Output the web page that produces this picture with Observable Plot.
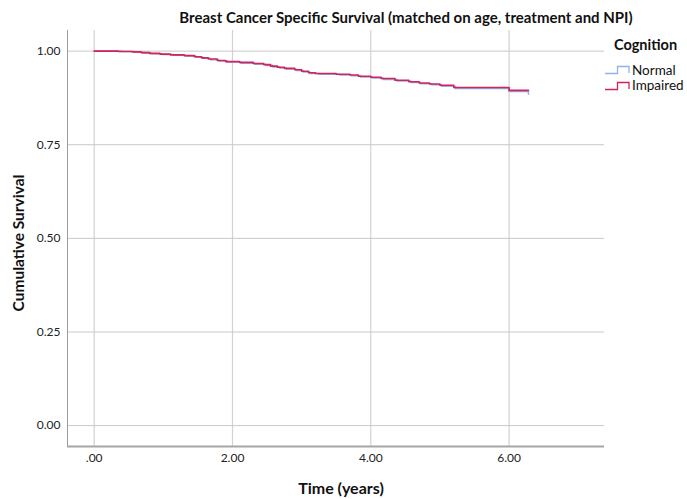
<!DOCTYPE html>
<html>
<head>
<meta charset="utf-8">
<script src="https://cdn.jsdelivr.net/npm/d3@7"></script>
<script src="https://cdn.jsdelivr.net/npm/@observablehq/plot@0.6"></script>
<style>
  html, body { margin: 0; padding: 0; background: #fff; }
  #wrap { position: relative; width: 687px; height: 499px; overflow: hidden; font-family: Lato, "Open Sans", sans-serif; }
  #wrap > svg, #wrap > figure { position: absolute; left: 0; top: 0; margin: 0; }
  .txt { position: absolute; font-weight: bold; color: #111; white-space: nowrap; line-height: 1; }
  #title { left: 0; width: 812px; top: 10px; text-align: center; font-size: 15px; }
  #xlabel { left: 0; width: 682px; top: 480px; text-align: center; font-size: 16px; }
  #ylabel { left: 19px; top: 243px; font-size: 15.5px; transform: translate(-50%, -50%) rotate(-90deg); }
  #legend { position: absolute; left: 605px; top: 38px; font-size: 13.5px; color: #111; line-height: 1; }
  #legend .head { font-weight: bold; font-size: 14.5px; margin-left: 9px; margin-bottom: 10px; }
  #legend .item { display: flex; align-items: center; height: 15.5px; }
  #legend svg { margin-right: 2px; }
</style>
</head>
<body>
<div id="wrap">
  <div id="title" class="txt">Breast Cancer Specific Survival (matched on age, treatment and NPI)</div>
  <div id="xlabel" class="txt">Time (years)</div>
  <div id="ylabel" class="txt">Cumulative Survival</div>
  <div id="legend"></div>
</div>
<script>
// Kaplan–Meier step estimates, one array pair per cognition group
const groups = ["Normal", "Impaired"];
const groupColors = ["#8db3e8", "#d4235a"];

const normalTimes = [0, 0.40, 0.58, 0.70, 0.82, 0.98, 1.15, 1.32, 1.47, 1.57, 1.68, 1.80, 1.92, 2.12, 2.32, 2.48, 2.58, 2.68, 2.78, 2.92, 3.02, 3.12, 3.25, 3.55, 3.72, 3.85, 4.02, 4.18, 4.38, 4.58, 4.72, 4.88, 5.02, 5.22, 6.00, 6.28];
const normalSurvival = [1.000, 0.999, 0.997, 0.995, 0.993, 0.991, 0.989, 0.987, 0.984, 0.981, 0.977, 0.974, 0.971, 0.968, 0.965, 0.962, 0.958, 0.955, 0.952, 0.948, 0.944, 0.940, 0.938, 0.936, 0.934, 0.931, 0.928, 0.924, 0.920, 0.916, 0.913, 0.910, 0.906, 0.900, 0.892, 0.885];

const impairedTimes = [0, 0.35, 0.55, 0.68, 0.80, 0.95, 1.10, 1.30, 1.45, 1.55, 1.65, 1.78, 1.90, 2.10, 2.30, 2.45, 2.55, 2.65, 2.75, 2.90, 3.00, 3.10, 3.20, 3.50, 3.70, 3.82, 4.00, 4.15, 4.35, 4.55, 4.70, 4.85, 5.00, 5.20, 6.00, 6.28];
const impairedSurvival = [1.000, 0.999, 0.998, 0.996, 0.994, 0.992, 0.990, 0.988, 0.985, 0.982, 0.979, 0.975, 0.972, 0.970, 0.967, 0.964, 0.960, 0.957, 0.954, 0.950, 0.946, 0.942, 0.940, 0.938, 0.936, 0.933, 0.930, 0.927, 0.922, 0.918, 0.915, 0.912, 0.909, 0.903, 0.895, 0.895];

const xTicks = [0, 2, 4, 6];
const xTickLabels = [".00", "2.00", "4.00", "6.00"];
const yTicks = [0, 0.25, 0.5, 0.75, 1];
const yTickLabels = ["0.00", "0.25", "0.50", "0.75", "1.00"];
const xDomain = [-0.386, 7.38];
const yDomain = [-0.0558, 1.055];

const rows = [
  ...normalTimes.map((t, i) => ({group: "Normal", time: t, survival: normalSurvival[i]})),
  ...impairedTimes.map((t, i) => ({group: "Impaired", time: t, survival: impairedSurvival[i]}))
];

const chart = Plot.plot({
  width: 687,
  height: 499,
  marginLeft: 67,
  marginRight: 83,
  marginTop: 30,
  marginBottom: 53,
  style: {fontFamily: "Lato, 'Open Sans', sans-serif", fontSize: "12px", color: "#222", background: "transparent"},
  x: {domain: xDomain},
  y: {domain: yDomain},
  color: {domain: groups, range: groupColors},
  marks: [
    Plot.gridX(xTicks, {stroke: "#d2d2d2", strokeOpacity: 1, strokeWidth: 1.2}),
    Plot.gridY(yTicks, {stroke: "#c8c8c8", strokeOpacity: 1}),
    Plot.ruleX([xDomain[0]], {stroke: "#9a9a9a", strokeWidth: 1}),
    Plot.ruleY([yDomain[0]], {stroke: "#a6a6a6", strokeWidth: 2}),
    Plot.axisX(xTicks, {tickSize: 0, tickPadding: 7, tickFormat: (d, i) => xTickLabels[i], label: null}),
    Plot.axisY(yTicks, {tickSize: 0, tickPadding: 7, tickFormat: (d, i) => yTickLabels[i], label: null}),
    Plot.line(rows, {x: "time", y: "survival", z: "group", stroke: "group", curve: "step-after", strokeWidth: 1.6})
  ]
});

document.getElementById("wrap").prepend(chart);

// Legend: a small step glyph per group
const legend = d3.select("#legend");
legend.append("div").attr("class", "head").text("Cognition");
groups.forEach((g, i) => {
  const item = legend.append("div").attr("class", "item");
  const svg = item.append("svg").attr("width", 25).attr("height", 10);
  svg.append("path")
    .attr("d", "M0,8.5H12.5V1.5H24V8")
    .attr("fill", "none")
    .attr("stroke", groupColors[i])
    .attr("stroke-width", 1.3);
  item.append("span").text(g);
});
</script>
</body>
</html>
